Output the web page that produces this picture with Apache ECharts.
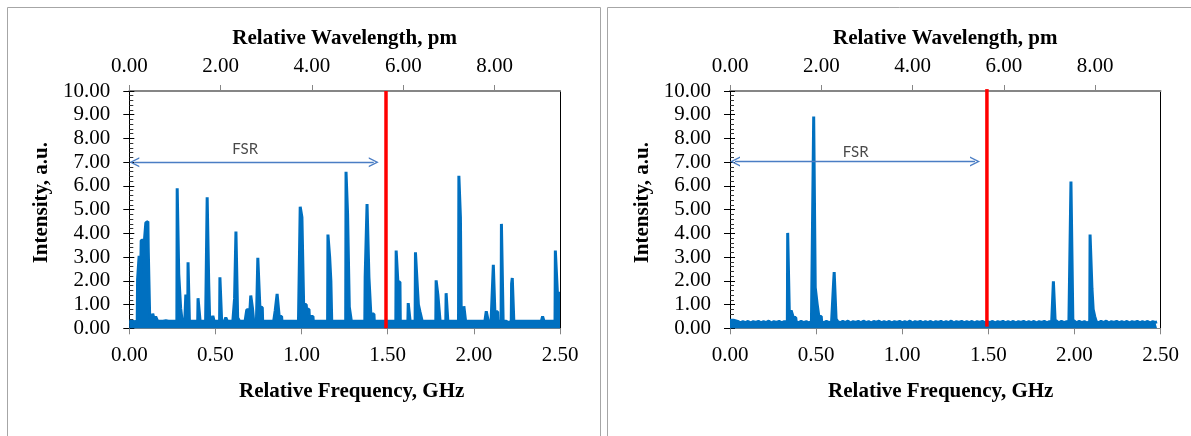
<!DOCTYPE html>
<html><head><meta charset="utf-8">
<script src="https://cdn.jsdelivr.net/npm/echarts@6/dist/echarts.min.js"></script>
<style>html,body{margin:0;padding:0;background:#fff}#c{width:1191px;height:436px}</style>
</head><body><div id="c"></div>
<script>
// ---- data (frequency GHz, intensity a.u.) ----
const leftSpectrum = [
[0.000,0.3],[0.008,0.24],[0.016,0.3],[0.024,0.22],[0.032,0.28],[0.040,0.24],[0.046,0.3],
[0.048,2.05],[0.055,2.08],[0.057,3.05],[0.063,3.1],[0.066,2.2],[0.069,3.7],[0.083,3.72],[0.086,3.3],[0.089,3.82],[0.093,3.85],[0.096,4.45],[0.108,4.5],[0.110,3.35],[0.116,3.35],[0.118,0.6],[0.121,0.3],
[0.128,0.25],[0.134,0.3],[0.136,0.62],[0.143,0.62],[0.145,0.35],[0.151,0.3],[0.153,0.5],[0.162,0.48],[0.164,0.3],
[0.172,0.24],[0.180,0.3],[0.188,0.22],[0.196,0.3],[0.204,0.24],[0.212,0.32],[0.220,0.24],[0.228,0.3],[0.236,0.22],[0.244,0.3],[0.252,0.24],[0.260,0.3],[0.268,0.24],[0.276,0.3],
[0.278,5.9],[0.285,5.9],[0.287,2.3],[0.296,2.3],[0.298,0.85],[0.305,0.85],[0.307,0.3],
[0.315,0.24],[0.322,0.3],[0.326,0.3],[0.328,1.42],[0.331,1.42],[0.333,0.4],[0.339,0.3],[0.341,2.78],[0.347,2.78],[0.349,0.3],
[0.357,0.24],[0.365,0.3],[0.373,0.22],[0.381,0.3],[0.389,0.24],[0.397,0.3],[0.399,1.27],[0.409,1.27],[0.411,0.3],
[0.419,0.24],[0.427,0.3],[0.435,0.22],[0.443,0.3],[0.450,0.3],[0.452,5.52],[0.459,5.52],[0.461,1.9],[0.464,1.9],[0.466,0.5],[0.472,0.5],[0.474,0.3],
[0.481,0.26],[0.485,0.52],[0.490,0.5],[0.492,0.3],[0.500,0.24],[0.508,0.3],[0.516,0.22],[0.524,0.3],[0.526,2.15],[0.534,2.15],[0.536,0.3],
[0.544,0.24],[0.552,0.3],[0.558,0.3],[0.560,0.45],[0.567,0.42],[0.569,0.3],[0.577,0.24],[0.585,0.3],[0.593,0.22],[0.601,0.3],[0.608,0.3],
[0.611,1.25],[0.617,1.25],[0.619,4.08],[0.627,4.08],[0.629,0.45],[0.638,0.42],[0.640,0.3],
[0.648,0.24],[0.656,0.3],[0.664,0.22],[0.672,0.3],[0.680,0.3],[0.682,0.78],[0.696,0.78],[0.698,0.5],[0.703,0.5],[0.705,1.38],[0.713,1.38],[0.715,0.85],[0.720,0.85],[0.722,0.3],
[0.730,0.24],[0.738,0.3],[0.744,0.3],[0.746,2.97],[0.756,2.97],[0.758,0.9],[0.772,0.88],[0.774,0.3],
[0.782,0.24],[0.790,0.3],[0.798,0.22],[0.806,0.3],[0.814,0.24],[0.822,0.3],[0.830,0.22],[0.838,0.3],[0.845,0.3],[0.847,0.75],[0.856,0.75],[0.858,1.45],[0.868,1.45],[0.870,0.5],[0.884,0.5],[0.886,0.3],
[0.894,0.24],[0.902,0.3],[0.910,0.22],[0.918,0.3],[0.926,0.24],[0.934,0.3],[0.942,0.22],[0.950,0.3],[0.958,0.24],[0.966,0.3],[0.974,0.22],[0.982,0.3],[0.990,0.3],
[0.992,5.12],[1.000,5.12],[1.002,4.68],[1.010,4.68],[1.012,1.0],[1.027,1.0],[1.029,0.8],[1.043,0.8],[1.045,0.5],[1.066,0.5],[1.068,0.3],
[1.076,0.24],[1.084,0.3],[1.092,0.22],[1.100,0.3],[1.108,0.24],[1.116,0.3],[1.124,0.22],[1.132,0.3],[1.140,0.24],[1.151,0.3],
[1.153,3.95],[1.161,3.95],[1.163,3.0],[1.168,3.0],[1.170,2.0],[1.173,2.0],[1.175,0.3],
[1.183,0.24],[1.191,0.3],[1.199,0.22],[1.207,0.3],[1.215,0.24],[1.223,0.3],[1.231,0.22],[1.239,0.3],[1.247,0.24],[1.256,0.3],
[1.258,6.6],[1.265,6.6],[1.267,4.82],[1.275,4.82],[1.277,0.9],[1.287,0.9],[1.289,0.3],
[1.297,0.24],[1.305,0.3],[1.313,0.22],[1.321,0.3],[1.329,0.24],[1.337,0.3],[1.345,0.22],[1.353,0.3],[1.360,0.24],[1.367,0.3],
[1.369,2.15],[1.378,2.15],[1.380,5.24],[1.389,5.24],[1.391,2.15],[1.400,2.15],[1.402,0.6],[1.420,0.6],[1.422,0.3],
[1.430,0.24],[1.438,0.3],[1.446,0.22],[1.454,0.3],[1.462,0.24],[1.470,0.3],[1.478,0.22],[1.486,0.3],[1.494,0.24],[1.502,0.3],[1.510,0.22],[1.518,0.3],[1.526,0.24],[1.534,0.3],[1.547,0.3],
[1.549,3.28],[1.557,3.28],[1.559,1.95],[1.571,1.95],[1.573,0.3],
[1.581,0.24],[1.589,0.3],[1.597,0.22],[1.605,0.3],[1.617,0.3],[1.619,1.06],[1.628,1.06],[1.630,0.3],
[1.638,0.24],[1.646,0.3],[1.652,0.24],[1.659,0.3],[1.661,3.2],[1.670,3.2],[1.672,1.75],[1.676,1.7],[1.678,1.0],[1.685,1.0],[1.687,0.7],[1.698,0.7],[1.700,0.3],
[1.708,0.24],[1.716,0.3],[1.724,0.22],[1.732,0.3],[1.740,0.24],[1.748,0.3],[1.756,0.22],[1.764,0.3],[1.772,0.24],[1.779,0.3],
[1.781,2.02],[1.789,2.02],[1.791,1.42],[1.802,1.42],[1.804,0.3],[1.812,0.24],[1.820,0.3],[1.828,0.22],[1.837,0.3],[1.839,1.48],[1.847,1.48],[1.849,0.3],
[1.857,0.24],[1.865,0.3],[1.873,0.22],[1.881,0.3],[1.889,0.24],[1.897,0.3],[1.905,0.24],[1.911,0.3],
[1.913,6.43],[1.920,6.43],[1.922,4.68],[1.925,4.68],[1.927,0.3],[1.933,0.26],[1.940,0.3],[1.942,0.93],[1.950,0.93],[1.952,0.3],
[1.960,0.24],[1.968,0.3],[1.976,0.22],[1.984,0.3],[1.992,0.24],[2.000,0.3],[2.008,0.22],[2.016,0.3],[2.024,0.24],[2.032,0.3],[2.040,0.22],[2.048,0.3],[2.056,0.24],[2.064,0.3],[2.070,0.3],
[2.072,0.72],[2.082,0.72],[2.084,0.3],[2.092,0.24],[2.100,0.3],[2.111,0.3],[2.113,2.68],[2.120,2.68],[2.122,0.7],[2.138,0.7],[2.140,0.3],[2.148,0.26],[2.158,0.3],
[2.160,4.4],[2.168,4.4],[2.170,0.3],[2.178,0.26],[2.185,0.3],[2.187,0.36],[2.193,0.36],[2.195,0.3],[2.203,0.24],[2.211,0.3],[2.217,0.3],
[2.219,1.88],[2.222,1.88],[2.223,2.12],[2.230,2.12],[2.232,0.3],
[2.240,0.24],[2.248,0.3],[2.256,0.22],[2.264,0.3],[2.272,0.24],[2.280,0.3],[2.288,0.22],[2.296,0.3],[2.304,0.24],[2.312,0.3],[2.320,0.22],[2.328,0.3],[2.336,0.24],[2.344,0.3],[2.352,0.22],[2.360,0.3],[2.368,0.24],[2.376,0.3],[2.384,0.22],[2.392,0.3],[2.397,0.3],
[2.399,0.5],[2.405,0.5],[2.407,0.3],[2.415,0.24],[2.423,0.3],[2.431,0.22],[2.439,0.3],[2.447,0.24],[2.455,0.3],[2.463,0.22],[2.471,0.3],
[2.473,3.28],[2.483,3.28],[2.485,1.48],[2.500,1.48]
];
const rightSpectrum = [
[0.000,0.34],[0.010,0.3],[0.020,0.34],[0.030,0.26],[0.045,0.29],[0.060,0.23],[0.075,0.28],[0.090,0.24],[0.105,0.29],[0.120,0.22],[0.135,0.28],[0.150,0.25],[0.165,0.29],[0.180,0.23],[0.195,0.28],[0.210,0.24],[0.225,0.3],[0.240,0.22],[0.255,0.28],[0.270,0.25],[0.285,0.29],[0.300,0.23],[0.315,0.28],[0.325,0.24],[0.333,0.28],
[0.335,4.02],[0.343,4.02],[0.345,0.5],[0.352,0.5],[0.355,0.75],[0.366,0.75],[0.368,0.45],[0.382,0.45],[0.384,0.28],
[0.398,0.23],[0.413,0.29],[0.428,0.24],[0.443,0.28],[0.458,0.22],[0.473,0.29],[0.484,0.26],
[0.486,8.92],[0.493,8.92],[0.495,1.72],[0.504,1.72],[0.506,1.03],[0.514,1.03],[0.516,0.5],[0.530,0.5],[0.532,0.28],
[0.545,0.23],[0.560,0.29],[0.575,0.24],[0.590,0.28],[0.599,0.27],
[0.601,1.85],[0.604,1.85],[0.605,2.37],[0.614,2.37],[0.616,0.4],[0.624,0.4],[0.626,0.28],
[0.640,0.23],[0.655,0.29],[0.670,0.24],[0.685,0.3],[0.700,0.22],[0.715,0.28],[0.730,0.25],[0.745,0.29],[0.760,0.23],[0.775,0.3],[0.790,0.24],[0.805,0.28],[0.820,0.22],[0.835,0.29],[0.850,0.25],[0.865,0.3],[0.880,0.23],[0.895,0.28],[0.910,0.24],[0.925,0.29],[0.940,0.22],[0.955,0.28],[0.970,0.25],[0.985,0.29],[1.000,0.23],[1.015,0.28],[1.030,0.24],[1.045,0.3],[1.060,0.22],[1.075,0.28],[1.090,0.25],[1.105,0.29],[1.120,0.23],[1.135,0.28],[1.150,0.24],[1.165,0.29],[1.180,0.22],[1.195,0.28],[1.210,0.25],[1.225,0.29],[1.240,0.23],[1.255,0.28],[1.270,0.24],[1.285,0.3],[1.300,0.22],[1.315,0.28],[1.330,0.25],[1.345,0.29],[1.360,0.23],[1.375,0.28],[1.390,0.24],[1.405,0.29],[1.420,0.22],[1.435,0.28],[1.450,0.25],[1.465,0.29],[1.480,0.23],[1.495,0.28],[1.510,0.24],[1.525,0.29],[1.540,0.22],[1.555,0.28],[1.570,0.25],[1.585,0.29],[1.600,0.23],[1.615,0.28],[1.630,0.24],[1.645,0.29],[1.660,0.22],[1.675,0.28],[1.690,0.25],[1.705,0.29],[1.720,0.23],[1.735,0.28],[1.750,0.24],[1.765,0.29],[1.780,0.22],[1.795,0.28],[1.810,0.25],[1.825,0.29],[1.840,0.23],[1.855,0.28],[1.868,0.24],[1.876,0.28],
[1.878,1.98],[1.886,1.98],[1.888,0.35],[1.894,0.35],[1.896,0.28],
[1.910,0.23],[1.925,0.29],[1.940,0.24],[1.955,0.28],[1.968,0.23],[1.978,0.28],
[1.980,6.19],[1.989,6.19],[1.991,0.35],[1.997,0.35],[1.999,0.28],
[2.013,0.23],[2.028,0.29],[2.043,0.24],[2.058,0.28],[2.073,0.22],[2.089,0.28],
[2.091,3.95],[2.100,3.95],[2.102,1.68],[2.107,1.68],[2.109,0.8],[2.116,0.8],[2.118,0.5],[2.125,0.5],[2.127,0.28],
[2.140,0.23],[2.155,0.29],[2.170,0.24],[2.185,0.3],[2.200,0.22],[2.215,0.28],[2.230,0.25],[2.245,0.29],[2.260,0.23],[2.275,0.28],[2.290,0.24],[2.305,0.29],[2.320,0.22],[2.335,0.28],[2.350,0.25],[2.365,0.29],[2.380,0.23],[2.395,0.28],[2.410,0.24],[2.425,0.29],[2.440,0.22],[2.455,0.28],[2.470,0.25],[2.480,0.27]
];
// FSR limit (red line) per panel
const fsrLimitLeft = [[1.49, 0], [1.49, 10]];
const fsrLimitRight = [[1.492, 0.07], [1.492, 10.08]];
// FSR arrow per panel: start / end (freq, intensity)
const fsrArrowLeft = [[0.029, 7], [1.419, 7]];
const fsrArrowRight = [[0.029, 7.03], [1.423, 7.03]];
const fsrLabelLeft = [[0.673, 7.55]];
const fsrLabelRight = [[0.73, 7.42]];
const fsrText = 'FSR';
const freqRange = [0, 2.5], freqStep = 0.5;
const wavelengthRange = [0, 9.43], wavelengthStep = 2;
const intensityRange = [0, 10], intensityStep = 1;
const freqTitle = 'Relative Frequency, GHz';
const wavelengthTitle = 'Relative Wavelength, pm';
const intensityTitle = 'Intensity, a.u.';

// ---- chart ----
const SERIF = "'Liberation Serif','Times New Roman',serif";
const BLUE = '#0070C0';
const fmt2 = v => Number(v).toFixed(2);
const chev = 'path://M50,0 L100,100 L85.5,100 L50,29 L14.5,100 L0,100 Z';

const grids = [
  {left: 129.3, top: 91, width: 430.7, height: 237.3, containLabel: false, outerBoundsMode: 'none'},
  {left: 730, top: 91, width: 430.5, height: 237.3, containLabel: false, outerBoundsMode: 'none'}
];
const xAxes = [], yAxes = [];
[0, 1].forEach(i => {
  xAxes.push({
    type: 'value', gridIndex: i, position: 'bottom', min: freqRange[0], max: freqRange[1], interval: freqStep,
    name: freqTitle, nameLocation: 'middle', nameGap: 53,
    nameTextStyle: {fontFamily: SERIF, fontWeight: 'bold', fontSize: 21, color: '#000', padding: i === 0 ? [0, 0, 0, 14] : [0, 9, 0, 0]},
    axisLine: {show: true, onZero: false, lineStyle: {color: '#868686', width: 1}},
    axisTick: {show: true, inside: false, length: 6, lineStyle: {color: '#868686', width: 1}},
    axisLabel: {margin: 17, formatter: fmt2, fontFamily: SERIF, fontSize: 21, color: '#000'},
    splitLine: {show: false}, minorTick: {show: false}
  });
  xAxes.push({
    type: 'value', gridIndex: i, position: 'top', min: wavelengthRange[0], max: wavelengthRange[1], interval: wavelengthStep,
    name: wavelengthTitle, nameLocation: 'middle', nameGap: 42,
    nameTextStyle: {fontFamily: SERIF, fontWeight: 'bold', fontSize: 21, color: '#000'},
    axisLine: {show: true, onZero: false, lineStyle: {color: '#868686', width: 2}},
    axisTick: {show: true, inside: false, length: 6, lineStyle: {color: '#868686', width: 1}},
    axisLabel: {margin: 14, showMaxLabel: false, formatter: fmt2, fontFamily: SERIF, fontSize: 21, color: '#000'},
    splitLine: {show: false}
  });
  yAxes.push({
    type: 'value', gridIndex: i, position: 'left', min: intensityRange[0], max: intensityRange[1], interval: intensityStep,
    name: intensityTitle, nameLocation: 'middle', nameRotate: 90, nameGap: 77,
    nameTextStyle: {fontFamily: SERIF, fontWeight: 'bold', fontSize: 21, color: '#000', padding: [0, 0, 0, 14]},
    axisLine: {show: true, onZero: false, lineStyle: {color: '#000', width: 1}},
    axisTick: {show: true, inside: false, length: 6, lineStyle: {color: '#000', width: 1}},
    axisLabel: {margin: 19, formatter: fmt2, fontFamily: SERIF, fontSize: 21, color: '#000'},
    splitLine: {show: false}
  });
  yAxes.push({
    type: 'value', gridIndex: i, position: 'left', min: intensityRange[0], max: intensityRange[1], interval: intensityStep,
    axisLine: {show: false},
    axisTick: {show: true, inside: true, length: 5, lineStyle: {color: '#000', width: 1}},
    minorTick: {show: true, splitNumber: 5, length: 4, lineStyle: {color: '#333', width: 1}},
    axisLabel: {show: false}, splitLine: {show: false}, minorSplitLine: {show: false}
  });
  yAxes.push({
    type: 'value', gridIndex: i, position: 'right', min: intensityRange[0], max: intensityRange[1],
    axisLine: {show: true, onZero: false, lineStyle: {color: '#000', width: 1}},
    axisTick: {show: false}, axisLabel: {show: false}, splitLine: {show: false}
  });
});

function panelSeries(i, spectrum, limit, arrow, label) {
  const xi = i * 2, yi = i * 3;
  return [
    {type: 'line', xAxisIndex: xi, yAxisIndex: yi, data: spectrum, symbol: 'none', showSymbol: false,
     lineStyle: {color: BLUE, width: 3}, areaStyle: {color: BLUE, opacity: 1}, itemStyle: {color: BLUE},
     z: 2, silent: true, animation: false},
    {type: 'line', xAxisIndex: xi, yAxisIndex: yi, data: limit, symbol: 'none', showSymbol: false, clip: false,
     lineStyle: {color: '#FF0000', width: 3.5}, z: 5, silent: true, animation: false},
    {type: 'line', xAxisIndex: xi, yAxisIndex: yi, data: [], symbol: 'none', silent: true, animation: false,
     markLine: {silent: true, animation: false, symbol: [chev, chev], symbolSize: 10,
       lineStyle: {color: '#4A7DC4', width: 1.3, type: 'solid'}, itemStyle: {color: '#4A7DC4'}, label: {show: false},
       data: [[{coord: arrow[0]}, {coord: arrow[1]}]]}, z: 4},
    {type: 'scatter', xAxisIndex: xi, yAxisIndex: yi, data: label, symbolSize: 1, silent: true, animation: false,
     itemStyle: {color: 'transparent'},
     label: {show: true, position: 'inside', formatter: fsrText, fontFamily: 'Lato, "Open Sans", sans-serif', fontSize: 15, color: '#1a1a1a'}, z: 6}
  ];
}

const chart = echarts.init(document.getElementById('c'), null, {renderer: 'canvas'});
chart.setOption({
  animation: false,
  backgroundColor: '#fff',
  grid: grids, xAxis: xAxes, yAxis: yAxes,
  series: [].concat(
    panelSeries(0, leftSpectrum, fsrLimitLeft, fsrArrowLeft, fsrLabelLeft),
    panelSeries(1, rightSpectrum, fsrLimitRight, fsrArrowRight, fsrLabelRight)
  ),
  graphic: [
    {type: 'rect', shape: {x: 7.5, y: 7.5, width: 593, height: 440}, style: {fill: 'none', stroke: '#A6A6A6', lineWidth: 1}, z: -10, silent: true},
    {type: 'rect', shape: {x: 607.5, y: 7.5, width: 600, height: 440}, style: {fill: 'none', stroke: '#A6A6A6', lineWidth: 1}, z: -10, silent: true}
  ]
});
</script></body></html>
